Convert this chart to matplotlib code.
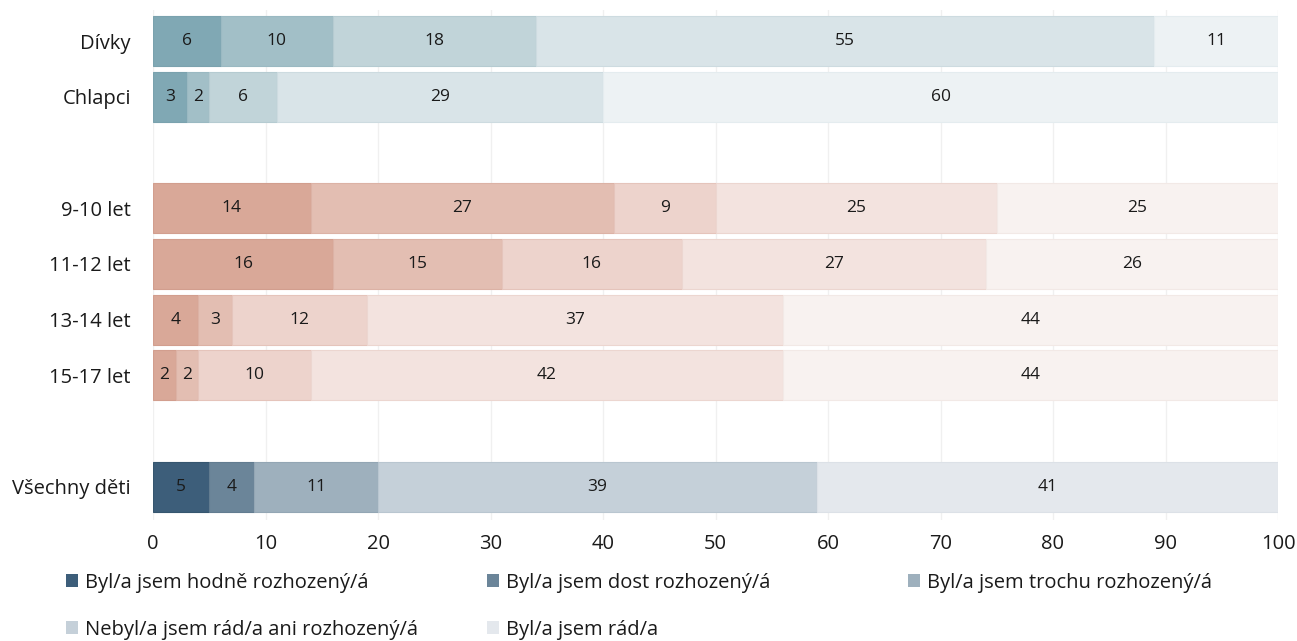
import matplotlib
matplotlib.use("Agg")
import matplotlib.pyplot as plt
from matplotlib.patches import Patch
import numpy as np

plt.rcParams['font.family'] = ['Open Sans', 'DejaVu Sans']

categories = ["Dívky", "Chlapci", "9-10 let", "11-12 let", "13-14 let", "15-17 let", "Všechny děti"]
series_names = ["Byl/a jsem hodně rozhozený/á", "Byl/a jsem dost rozhozený/á",
                "Byl/a jsem trochu rozhozený/á", "Nebyl/a jsem rád/a ani rozhozený/á",
                "Byl/a jsem rád/a"]
values = {
    "Dívky":        [6, 10, 18, 55, 11],
    "Chlapci":      [3, 2, 6, 29, 60],
    "9-10 let":     [14, 27, 9, 25, 25],
    "11-12 let":    [16, 15, 16, 27, 26],
    "13-14 let":    [4, 3, 12, 37, 44],
    "15-17 let":    [2, 2, 10, 42, 44],
    "Všechny děti": [5, 4, 11, 39, 41],
}
xticks = [0, 10, 20, 30, 40, 50, 60, 70, 80, 90, 100]

# styling
row_pos = [0, 1, 3, 4, 5, 6, 8]
pal_gender = ["#80a8b4", "#a2bfc7", "#c1d4d9", "#d9e4e8", "#edf2f4"]
pal_age = ["#d9a898", "#e3beb2", "#edd3cc", "#f3e3df", "#f8f2f0"]
pal_all = ["#3d5e7a", "#6b8599", "#9eb0bd", "#c5d0d9", "#e4e8ed"]
edge_gender = ["#7aa2ae", "#9ab9c2", "#b5cbd1", "#cddbe0", "#e4ecef"]
edge_age = ["#d29e8e", "#dcb2a5", "#e5c4bb", "#ecd6d0", "#f2e9e6"]
edge_all = ["#36566f", "#627c90", "#93a6b4", "#b9c6d0", "#dce1e7"]
palettes = [pal_gender, pal_gender, pal_age, pal_age, pal_age, pal_age, pal_all]
edges = [edge_gender, edge_gender, edge_age, edge_age, edge_age, edge_age, edge_all]

fig = plt.figure(figsize=(12.97, 6.41), dpi=100)
ax = fig.add_axes([153/1297, 1 - 520/641, (1278-153)/1297, 510/641])

for i, cat in enumerate(categories):
    vals = values[cat]
    left = 0
    for j, v in enumerate(vals):
        ax.barh(row_pos[i], v, left=left, height=0.9, color=palettes[i][j],
                edgecolor=edges[i][j], linewidth=0.8, zorder=2)
        ax.text(left + v / 2, row_pos[i], str(v), ha='center', va='center',
                fontsize=12.5, color='#1a1a1a', zorder=3)
        left += v

ax.set_xlim(0, 100)
ax.set_ylim(8.6, -0.56)
ax.set_xticks(xticks)
ax.set_xticklabels([str(t) for t in xticks], fontsize=14.5, color='#1a1a1a')
ax.set_yticks(row_pos)
ax.set_yticklabels(categories, fontsize=14.5, color='#1a1a1a')
ax.tick_params(axis='both', length=0)
ax.tick_params(axis='y', pad=16)
ax.tick_params(axis='x', pad=10)
ax.grid(axis='x', color='#f0f0f0', linewidth=1, zorder=0)
ax.set_axisbelow(True)
for s in ax.spines.values():
    s.set_visible(False)

# legend items at fixed positions (row-major)
leg_pos = [(66, 583), (487, 583), (908, 583), (66, 630), (487, 630)]
for k, name in enumerate(series_names):
    x, y = leg_pos[k]
    lg = fig.legend(handles=[Patch(facecolor=pal_all[k], edgecolor='none')], labels=[name],
                    loc='center left', bbox_to_anchor=(x/1297, 1 - y/641),
                    frameon=False, fontsize=14.5, handlelength=0.62, handleheight=0.62,
                    handletextpad=0.3, borderpad=0, borderaxespad=0)
    for t in lg.get_texts():
        t.set_color('#1a1a1a')

fig.savefig("out.png", dpi=100)
